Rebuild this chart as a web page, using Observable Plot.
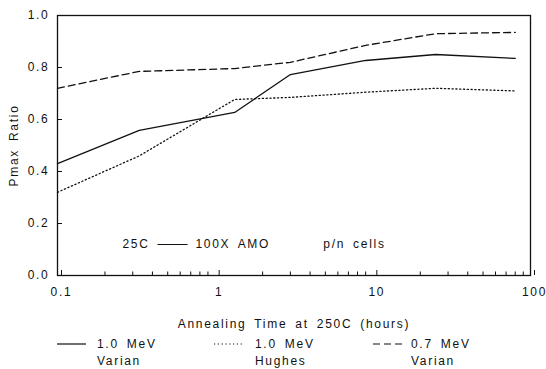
<!DOCTYPE html>
<html>
<head>
<meta charset="utf-8">
<script src="https://cdn.jsdelivr.net/npm/d3@7"></script>
<script src="https://cdn.jsdelivr.net/npm/@observablehq/plot@0.6"></script>
<style>
  html, body { margin: 0; padding: 0; background: #fff; }
  #wrap { position: relative; width: 546px; height: 369px; overflow: hidden; }
  #legend { position: absolute; left: 0; top: 0; }
  text { letter-spacing: 1.7px; word-spacing: 3px; }
</style>
</head>
<body>
<div id="wrap"></div>
<script>
// ---- data ----
const hours = [0.1, 0.33, 1.33, 3, 9, 25, 80];
const varian10 = [0.43, 0.558, 0.627, 0.773, 0.827, 0.85, 0.835];
const hughes10 = [0.32, 0.46, 0.677, 0.685, 0.705, 0.72, 0.71];
const varian07 = [0.72, 0.785, 0.796, 0.82, 0.885, 0.93, 0.935];
const seriesEnergy = ["1.0 MeV", "1.0 MeV", "0.7 MeV"];
const seriesSource = ["Varian", "Hughes", "Varian"];
const xTickLabels = [0.1, 1, 10, 100];
const yTickLabels = [0, 0.2, 0.4, 0.6, 0.8, 1.0];
const xMinorTicks = [0.2,0.3,0.4,0.5,0.6,0.7,0.8,0.9,2,3,4,5,6,7,8,9,20,30,40,50,60,70,80,90];
const annotationText = ["25C", "———", "100X AMO", "p/n cells"];
const annotationX = [0.258, 0.43, 0.75, 4.85];
const annotationY = [0.12, 0.12, 0.12, 0.12];

const dashes = [null, "1.2,2.6", "7,4"];
const series = [varian10, hughes10, varian07];
const rows = [];
series.forEach((vals, s) => vals.forEach((v, i) => rows.push({s, x: hours[i], y: v})));

const FONT = "'Liberation Sans', Arial, sans-serif";
const ink = "#111";

const chart = Plot.plot({
  width: 546, height: 335,
  marginLeft: 57, marginRight: 16, marginTop: 15, marginBottom: 60,
  style: {fontFamily: FONT, fontSize: "12px", color: ink, background: "#fff", overflow: "visible"},
  x: {type: "log", domain: [0.1, 100]},
  y: {domain: [0, 1]},
  marks: [
    Plot.axisX({ticks: xMinorTicks, tickSize: -3.5, tickFormat: () => "", label: null, stroke: ink}),
    Plot.axisX({ticks: xTickLabels, tickSize: -5, tickPadding: 17, dx: 4, tickFormat: d => String(d),
      label: "Annealing Time at 250C (hours)", labelAnchor: "center", labelOffset: 52, labelArrow: "none", stroke: ink}),
    Plot.axisY({ticks: yTickLabels, tickSize: -5, tickPadding: 13, tickFormat: d3.format(".1f"),
      label: "Pmax Ratio", labelAnchor: "center", labelOffset: 48, labelArrow: "none", stroke: ink}),
    Plot.frame({stroke: ink, strokeWidth: 1.3}),
    ...series.map((_, s) => Plot.line(rows.filter(r => r.s === s), {
      x: "x", y: "y", stroke: ink, strokeWidth: 1.3, strokeDasharray: dashes[s]
    })),
    Plot.text(annotationText, {x: (d, i) => annotationX[i], y: (d, i) => annotationY[i],
      text: d => d, textAnchor: "start", fill: ink,
      render: (index, scales, values, dims, context, next) => {
        const g = next(index, scales, values, dims, context);
        d3.select(g).selectAll("text").filter((_, j) => j === 1)
          .style("letter-spacing", "-3px");
        return g;
      }})
  ]
});

const wrap = document.getElementById("wrap");
wrap.appendChild(chart);

// ---- legend below the plot ----
const leg = d3.select(wrap).append("svg").attr("id", "legend")
  .attr("width", 546).attr("height", 369)
  .style("font-family", FONT).style("font-size", "12px");
const sampleX = [[57, 86], [214, 244], [373, 404]];
const textX = [97, 255, 411];
series.forEach((_, s) => {
  leg.append("line").attr("x1", sampleX[s][0]).attr("x2", sampleX[s][1])
    .attr("y1", 344).attr("y2", 344).attr("stroke", ink).attr("stroke-width", 1.2)
    .attr("stroke-dasharray", dashes[s]);
  leg.append("text").attr("x", textX[s]).attr("y", 348).attr("fill", ink).text(seriesEnergy[s]);
  leg.append("text").attr("x", textX[s]).attr("y", 365).attr("fill", ink).text(seriesSource[s]);
});
</script>
</body>
</html>
